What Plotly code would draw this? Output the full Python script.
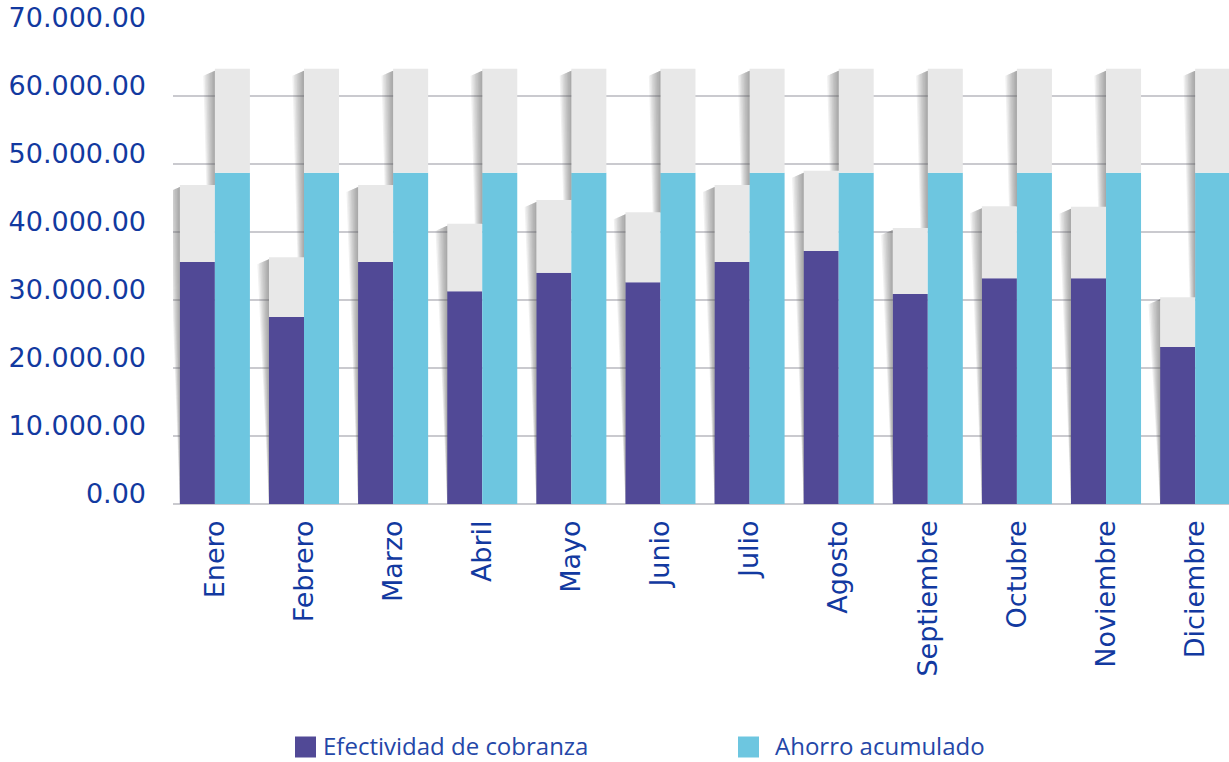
import plotly.graph_objects as go

# Months on the category axis
meses = ["Enero", "Febrero", "Marzo", "Abril", "Mayo", "Junio", "Julio",
         "Agosto", "Septiembre", "Octubre", "Noviembre", "Diciembre"]

# Efectividad de cobranza (solid part) and the full height of its grey column
efectividad = [35600, 27500, 35600, 31300, 34000, 32600, 35600,
               37200, 30900, 33200, 33200, 23100]
efectividad_total = [46900, 36300, 46900, 41200, 44700, 42900, 46900,
                     49000, 40600, 43800, 43700, 30400]

# Ahorro acumulado (solid part) and the full height of its grey column
ahorro = [48700] * 12
ahorro_total = [64000] * 12

# Y-axis ticks
y_ticks = [0, 10000, 20000, 30000, 40000, 50000, 60000, 70000]
y_ticktext = ["0.00", "10.000.00", "20.000.00", "30.000.00",
              "40.000.00", "50.000.00", "60.000.00", "70.000.00"]

PURPLE = "#514996"
CYAN = "#6DC6E0"
GREY = "#E8E8E8"
TEXT = "#1239A0"

BARGAP = 0.214
BAR_W = (1 - BARGAP) / 2          # width of one bar in category units
SHADOW_W = 0.13                   # shadow width at the top of a column
SHADOW_LAYERS = 8                 # stacked translucent bands form the gradient
px_y = 70000 / 476                # data units per vertical pixel

xs = list(range(len(meses)))
fig = go.Figure()


def add_shadow(xl, top, low):
    """Soft shadow left of a column edge at xl, tapering toward the base."""
    for k in range(1, SHADOW_LAYERS + 1):
        w = SHADOW_W * k / SHADOW_LAYERS
        w_low = w * low / top
        fig.add_scatter(
            x=[xl, xl - w, xl - w_low, xl, xl],
            y=[top - 2 * px_y, top - (2 + 5 * k / SHADOW_LAYERS) * px_y, low, low,
               top - 2 * px_y],
            fill="toself", mode="none", fillcolor="rgba(90,90,96,0.085)",
            hoverinfo="skip", showlegend=False,
        )


for i in xs:
    # purple column: shadow runs all the way down to the base
    add_shadow(i - BAR_W, efectividad_total[i], 0)
    # cyan column: only the part above the neighbouring purple column shows
    add_shadow(i, ahorro_total[i], efectividad_total[i])

# Purple column with its grey cap
fig.add_bar(x=xs, y=efectividad, offsetgroup="a", marker_color=PURPLE,
            marker_line_width=0, name="Efectividad de cobranza", showlegend=False)
fig.add_bar(x=xs, y=[t - v for t, v in zip(efectividad_total, efectividad)],
            base=efectividad, offsetgroup="a", marker_color=GREY,
            marker_line_width=0, showlegend=False, hoverinfo="skip")

# Cyan column with its grey cap
fig.add_bar(x=xs, y=ahorro, offsetgroup="b", marker_color=CYAN,
            marker_line_width=0, name="Ahorro acumulado", showlegend=False)
fig.add_bar(x=xs, y=[t - v for t, v in zip(ahorro_total, ahorro)],
            base=ahorro, offsetgroup="b", marker_color=GREY,
            marker_line_width=0, showlegend=False, hoverinfo="skip")

# Legend drawn below the chart
plot_left, plot_w = 173, 1229 - 173
plot_top, plot_h = 28, 504 - 28
legend_items = [("Efectividad de cobranza", PURPLE, 295, 322),
                ("Ahorro acumulado", CYAN, 738, 774)]
yc = (504 - 747) / plot_h
for label, color, sq_x, tx_x in legend_items:
    fig.add_shape(type="rect", xref="paper", yref="paper",
                  x0=(sq_x - plot_left) / plot_w, x1=(sq_x + 21 - plot_left) / plot_w,
                  y0=yc - 10.5 / plot_h, y1=yc + 10.5 / plot_h,
                  fillcolor=color, line_width=0)
    fig.add_annotation(xref="paper", yref="paper", x=(tx_x - plot_left) / plot_w,
                       y=(504 - 745) / plot_h, xanchor="left", yanchor="middle",
                       text=label, showarrow=False, borderpad=0,
                       font=dict(family="Open Sans", size=24, color="#2447A8"))

fig.update_layout(
    width=1229, height=762,
    margin=dict(l=plot_left, r=0, t=plot_top, b=762 - 504),
    paper_bgcolor="white", plot_bgcolor="white",
    barmode="group", bargap=BARGAP, bargroupgap=0,
    showlegend=False,
    font=dict(family="DejaVu Sans", color=TEXT),
)
fig.update_xaxes(
    type="linear", range=[-0.47, 11.38], tickvals=xs, ticktext=meses,
    tickangle=-90, showgrid=False, zeroline=False,
    showline=False, ticks="", tickfont=dict(size=27, color=TEXT),
    ticklabelstandoff=10,
)
fig.update_yaxes(
    range=[0, 70000], tickvals=y_ticks, ticktext=y_ticktext,
    showgrid=True, gridcolor="#CACACF", gridwidth=1.6,
    zeroline=True, zerolinecolor="#CACACF", zerolinewidth=1.6,
    ticks="", tickfont=dict(size=27, color=TEXT),
    ticklabelstandoff=26, ticklabelshift=-10,
)

fig.write_html("out.html")
